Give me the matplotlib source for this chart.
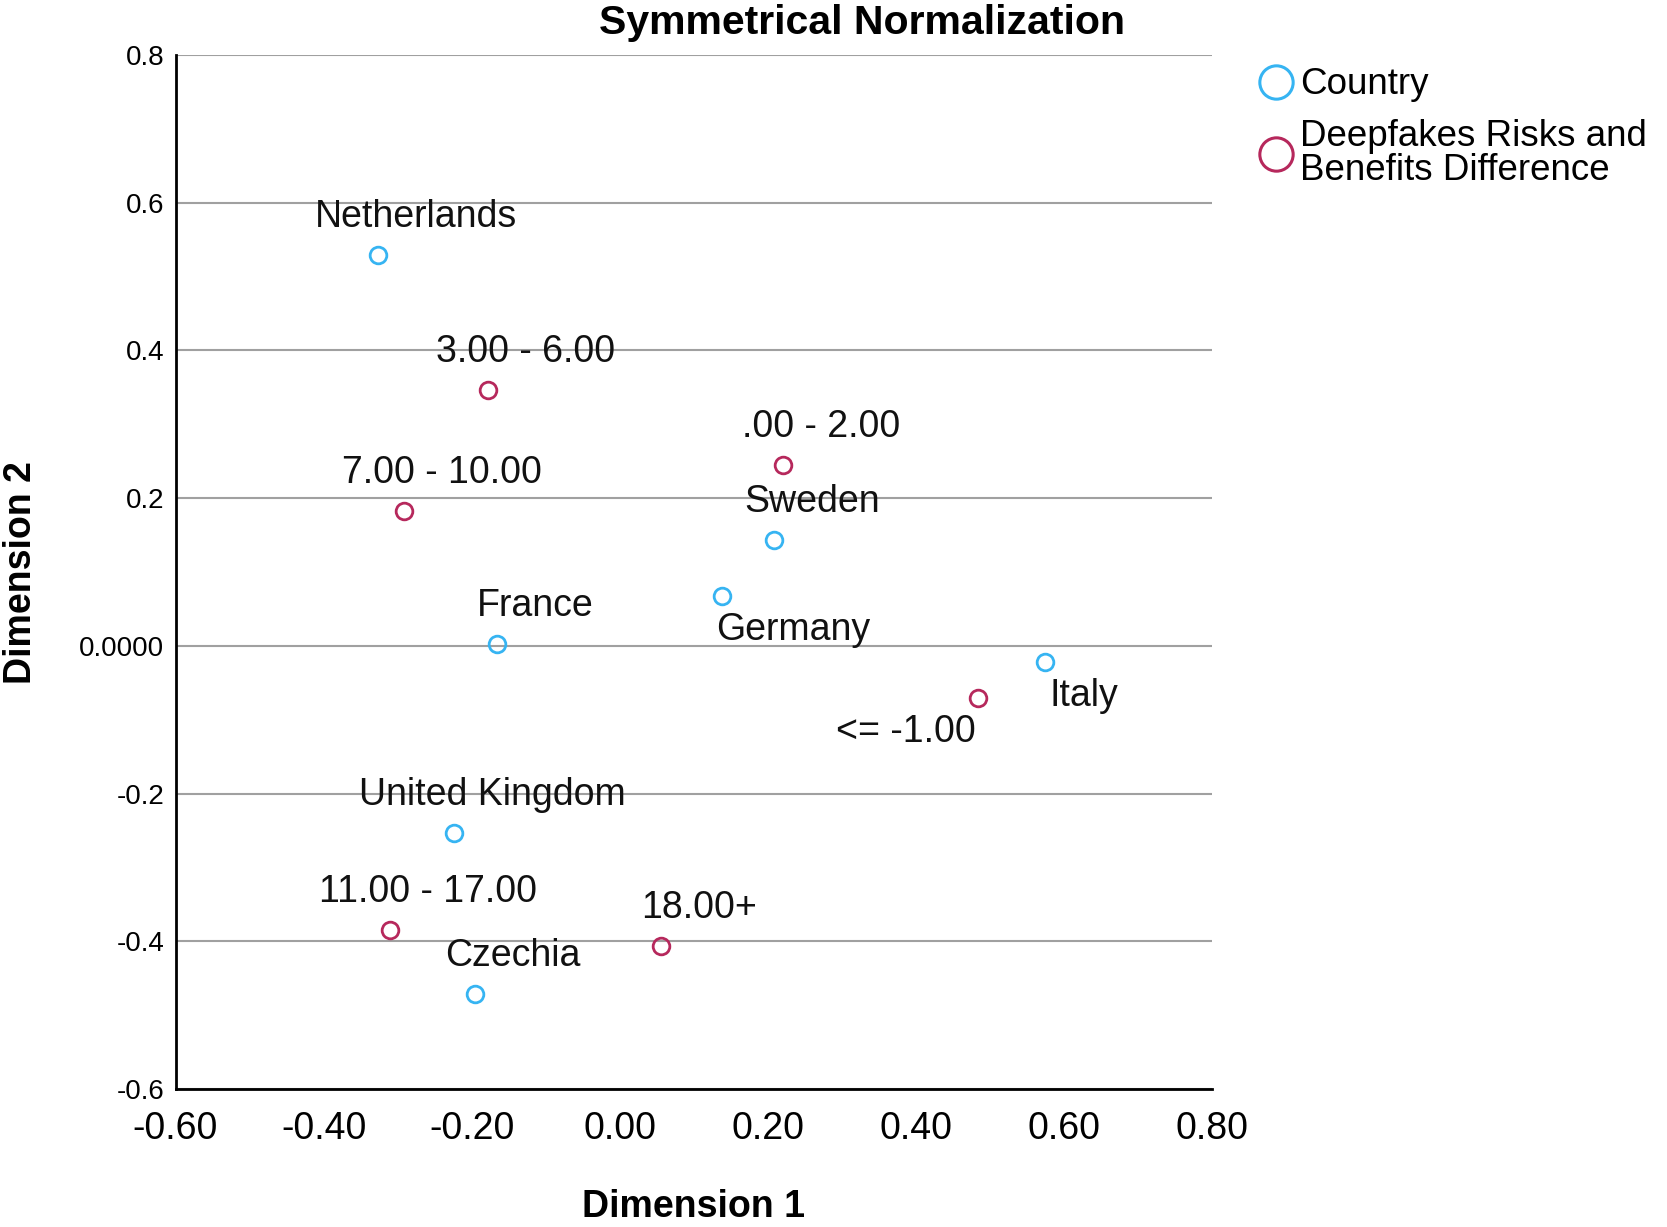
import matplotlib
matplotlib.use('Agg')
import matplotlib.pyplot as plt
from matplotlib.lines import Line2D

plt.rcParams['font.family'] = ['Liberation Sans', 'DejaVu Sans']

# row points (Country)
countries = ['Netherlands', 'Sweden', 'Germany', 'France', 'Italy', 'United Kingdom', 'Czechia']
country_d1 = [-0.326, 0.208, 0.138, -0.166, 0.575, -0.224, -0.196]
country_d2 = [0.529, 0.143, 0.067, 0.003, -0.022, -0.254, -0.472]

# column points (risks - benefits difference)
groups = ['3.00 - 6.00', '.00 - 2.00', '7.00 - 10.00', '<= -1.00', '11.00 - 17.00', '18.00+']
group_d1 = [-0.178, 0.221, -0.291, 0.484, -0.310, 0.056]
group_d2 = [0.346, 0.245, 0.182, -0.070, -0.385, -0.406]

xticks = [-0.6, -0.4, -0.2, 0.0, 0.2, 0.4, 0.6, 0.8]
xtick_labels = ['-0.60', '-0.40', '-0.20', '0.00', '0.20', '0.40', '0.60', '0.80']
yticks = [-0.6, -0.4, -0.2, 0.0, 0.2, 0.4, 0.6, 0.8]
ytick_labels = ['-0.6', '-0.4', '-0.2', '0.0000', '0.2', '0.4', '0.6', '0.8']

blue = '#36b4f2'
red = '#b6285c'

# label offsets in pixels (most labels sit up-right of the point)
default_off = (38, 38)
special_off = {'Germany': (71, -34), 'Italy': (39, -34), '<= -1.00': (-72, -34)}

fig = plt.figure(figsize=(16.67, 12.27), dpi=100)
ax = fig.add_axes([0.1053, 0.1125, 0.6217, 0.8427])

ax.set_xlim(-0.6, 0.8)
ax.set_ylim(-0.6, 0.8)
ax.set_yticks(yticks)
ax.set_yticklabels(ytick_labels, fontsize=20)
ax.set_xticks(xticks)
ax.set_xticklabels(xtick_labels, fontsize=27)
ax.tick_params(axis='y', length=0, pad=8)
ax.tick_params(axis='x', length=0, pad=16)
ax.grid(axis='y', color='#a0a0a0', linewidth=1.5)
ax.set_axisbelow(True)
for s in ['top', 'right']:
    ax.spines[s].set_visible(False)
for s in ['left', 'bottom']:
    ax.spines[s].set_linewidth(2)
    ax.spines[s].set_color('black')

ax.plot(country_d1, country_d2, 'o', ms=12, mfc='none', mec=blue, mew=2, ls='none', zorder=3)
ax.plot(group_d1, group_d2, 'o', ms=12, mfc='none', mec=red, mew=2, ls='none', zorder=3)

def put_labels(names, xs, ys):
    for n, x, y in zip(names, xs, ys):
        off = special_off.get(n, default_off)
        ax.annotate(n, (x, y), xytext=off, textcoords='offset pixels',
                    ha='center', va='center', fontsize=27, color='#111111')

put_labels(countries, country_d1, country_d2)
put_labels(groups, group_d1, group_d2)

fig.text(0.517, 0.981, 'Symmetrical Normalization', ha='center', va='center',
         fontsize=29.5, fontweight='bold')
fig.text(0.416, 0.0165, 'Dimension 1', ha='center', va='center', fontsize=27, fontweight='bold')
fig.text(0.0128, 0.533, 'Dimension 2', ha='center', va='center', rotation=90,
         fontsize=27, fontweight='bold')

handles = [Line2D([], [], marker='o', ms=24, mfc='none', mec=blue, mew=2.2, ls='none'),
           Line2D([], [], marker='o', ms=24, mfc='none', mec=red, mew=2.2, ls='none')]
leg = fig.legend(handles, ['Country', 'Deepfakes Risks and\nBenefits Difference'],
                 loc='upper left', bbox_to_anchor=(0.7435, 0.957), frameon=False,
                 fontsize=26.5, handletextpad=0.05, labelspacing=0.45, handlelength=1.2,
                 borderaxespad=0)
for t in leg.get_texts():
    t.set_linespacing(0.95)

fig.savefig('out.png', dpi=100)
